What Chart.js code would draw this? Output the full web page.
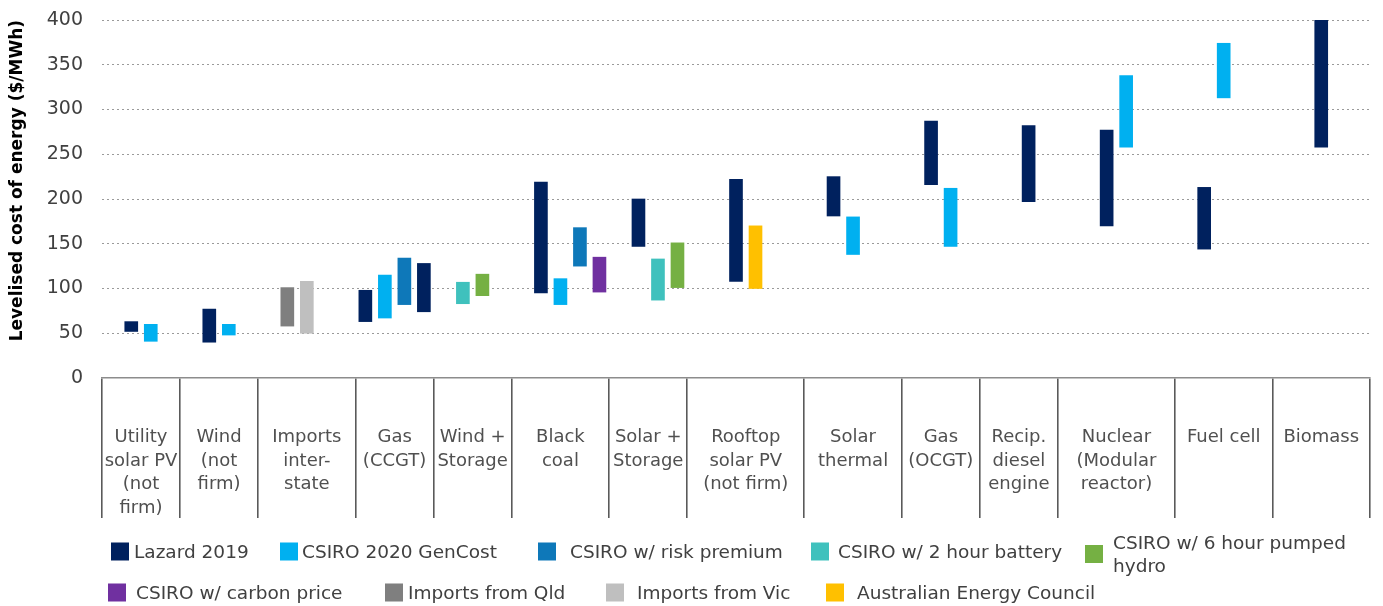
<!DOCTYPE html>
<html>
<head>
<meta charset="utf-8">
<script src="https://cdn.jsdelivr.net/npm/chart.js@4.4.1/dist/chart.umd.min.js"></script>
<style>
  body { margin: 0; background: #fff; }
  #wrap { position: relative; width: 1383px; height: 606px; }
  #legend { position: absolute; left: 0; top: 0; width: 100%; height: 100%; pointer-events: none;
    font-family: "DejaVu Sans", sans-serif; font-size: 18.5px; color: #404040; }
  .item { position: absolute; display: flex; align-items: center; transform: translateY(-50%); white-space: nowrap; }
  .box { display: inline-block; width: 18px; height: 18px; flex: none; }
  .wrapText { white-space: normal; width: 262px; line-height: 23px; }
</style>
</head>
<body>
<div id="wrap">
  <canvas id="myChart"></canvas>
  <div id="legend"></div>
</div>
<script>
const categories = [
  ["Utility", "solar PV", "(not", "firm)"],
  ["Wind", "(not", "firm)"],
  ["Imports", "inter-", "state"],
  ["Gas", "(CCGT)"],
  ["Wind +", "Storage"],
  ["Black", "coal"],
  ["Solar +", "Storage"],
  ["Rooftop", "solar PV", "(not firm)"],
  ["Solar", "thermal"],
  ["Gas", "(OCGT)"],
  ["Recip.", "diesel", "engine"],
  ["Nuclear", "(Modular", "reactor)"],
  ["Fuel cell"],
  ["Biomass"],
];
// how many bar slots each category column holds
const categorySlots = [4, 4, 5, 4, 4, 5, 4, 6, 5, 4, 4, 6, 5, 5];

const yTicks = [0, 50, 100, 150, 200, 250, 300, 350, 400];

// [slot, low, high]  ($/MWh)
const lazard2019 = [[1, 52, 63], [5, 40, 77], [13, 63, 98], [16, 74, 128], [22, 95, 219], [27, 147, 200],
  [32, 108, 222], [37, 181, 225], [42, 216, 287], [47, 197, 282], [51, 170, 277], [56, 144, 213], [62, 258, 400]];
const csiro2020 = [[2, 41, 60], [6, 48, 60], [14, 67, 115], [23, 82, 111], [38, 138, 180], [43, 147, 212],
  [52, 258, 338], [57, 313, 374]];
const csiroRisk = [[15, 82, 134], [24, 125, 168]];
const csiroBattery2h = [[18, 83, 107], [28, 87, 133]];
const csiroHydro6h = [[19, 92, 116], [29, 101, 151]];
const csiroCarbon = [[25, 96, 135]];
const importsQld = [[9, 58, 101]];
const importsVic = [[10, 50, 108]];
const aec = [[33, 100, 170]];

const series = [
  { name: "Lazard 2019", bars: lazard2019, color: "#00215e" },
  { name: "CSIRO 2020 GenCost", bars: csiro2020, color: "#00b0f0" },
  { name: "CSIRO w/ risk premium", bars: csiroRisk, color: "#0e78b9" },
  { name: "CSIRO w/ 2 hour battery", bars: csiroBattery2h, color: "#3fc1bd" },
  { name: "CSIRO w/ 6 hour pumped hydro", bars: csiroHydro6h, color: "#75b043" },
  { name: "CSIRO w/ carbon price", bars: csiroCarbon, color: "#7030a0" },
  { name: "Imports from Qld", bars: importsQld, color: "#7f7f7f" },
  { name: "Imports from Vic", bars: importsVic, color: "#bfbfbf" },
  { name: "Australian Energy Council", bars: aec, color: "#ffc000" },
];

// legend layout: [box left, text left, centre y]
const legendSpots = [
  [111, 134, 551], [280, 302, 551], [538, 570, 551], [811, 838, 551], [1085, 1113, 554],
  [108, 136, 592], [385, 408, 592], [606, 637, 592], [826, 857, 592],
];

const FONT = "'DejaVu Sans', sans-serif";

const edges = [-0.5];
categorySlots.forEach((n) => edges.push(edges[edges.length - 1] + n));
const centers = categorySlots.map((n, i) => edges[i] + n / 2);
const edgeSet = new Set(edges);
const labelAt = new Map(centers.map((c, i) => [c, categories[i]]));
const lineColor = (ctx) => (ctx.tick && edgeSet.has(ctx.tick.value) ? "#5a5a5a" : "rgba(0,0,0,0)");

const ctx = document.getElementById("myChart").getContext("2d");
const myChart = new Chart(ctx, {
  type: "bar",
  data: {
    datasets: series.map((s) => ({
      label: s.name,
      data: s.bars.map(([slot, lo, hi]) => ({ x: slot, y: [lo, hi] })),
      backgroundColor: s.color,
      borderWidth: 0,
      borderSkipped: false,
      grouped: false,
      barThickness: 13,
    })),
  },
  options: {
    responsive: true,
    maintainAspectRatio: false,
    animation: false,
    layout: { padding: { top: 20, right: 13, bottom: 88, left: 0 } },
    plugins: { legend: { display: false }, tooltip: { enabled: false } },
    scales: {
      x: {
        type: "linear",
        offset: false,
        min: edges[0],
        max: edges[edges.length - 1],
        afterBuildTicks: (scale) => {
          scale.ticks = [...edges, ...centers].sort((a, b) => a - b).map((v) => ({ value: v }));
        },
        afterFit: (scale) => { scale.height = 140; },
        grid: {
          offset: false,
          drawOnChartArea: false,
          tickLength: 140,
          lineWidth: 1.6,
          color: lineColor,
          tickColor: lineColor,
        },
        border: { display: true, color: "#8c8c8c", width: 1.5 },
        ticks: {
          autoSkip: false,
          maxRotation: 0,
          padding: -92,
          color: "#505050",
          font: { family: FONT, size: 18, lineHeight: 1.3 },
          callback: (v) => labelAt.get(v) || "",
        },
      },
      y: {
        min: 0,
        max: 400,
        afterBuildTicks: (scale) => { scale.ticks = yTicks.map((v) => ({ value: v })); },
        afterFit: (scale) => {
          scale.width = 102;
          scale.paddingTop = 0;
          scale.paddingBottom = 0;
        },
        grid: {
          drawTicks: false,
          lineWidth: 1,
          color: (c) => (c.tick && c.tick.value === 0 ? "rgba(0,0,0,0)" : "#9a9a9a"),
        },
        border: { display: false, dash: [2, 3] },
        ticks: { padding: 19, color: "#404040", font: { family: FONT, size: 19 } },
        title: {
          display: true,
          align: "end",
          text: "Levelised cost of energy ($/MWh)",
          color: "#000",
          font: { family: FONT, size: 17, weight: "bold" },
          padding: { top: 7, bottom: 0 },
        },
      },
    },
  },
});

// html legend from the datasets
const legendEl = document.getElementById("legend");
myChart.data.datasets.forEach((ds, i) => {
  const [boxX, textX, cy] = legendSpots[i];
  const item = document.createElement("div");
  item.className = "item";
  item.style.left = boxX + "px";
  item.style.top = cy + "px";
  const box = document.createElement("span");
  box.className = "box";
  box.style.background = ds.backgroundColor;
  const txt = document.createElement("span");
  txt.textContent = ds.label;
  txt.style.marginLeft = (textX - boxX - 18) + "px";
  if (ds.label.indexOf("pumped") >= 0) txt.className = "wrapText";
  item.appendChild(box);
  item.appendChild(txt);
  legendEl.appendChild(item);
});
</script>
</body>
</html>
